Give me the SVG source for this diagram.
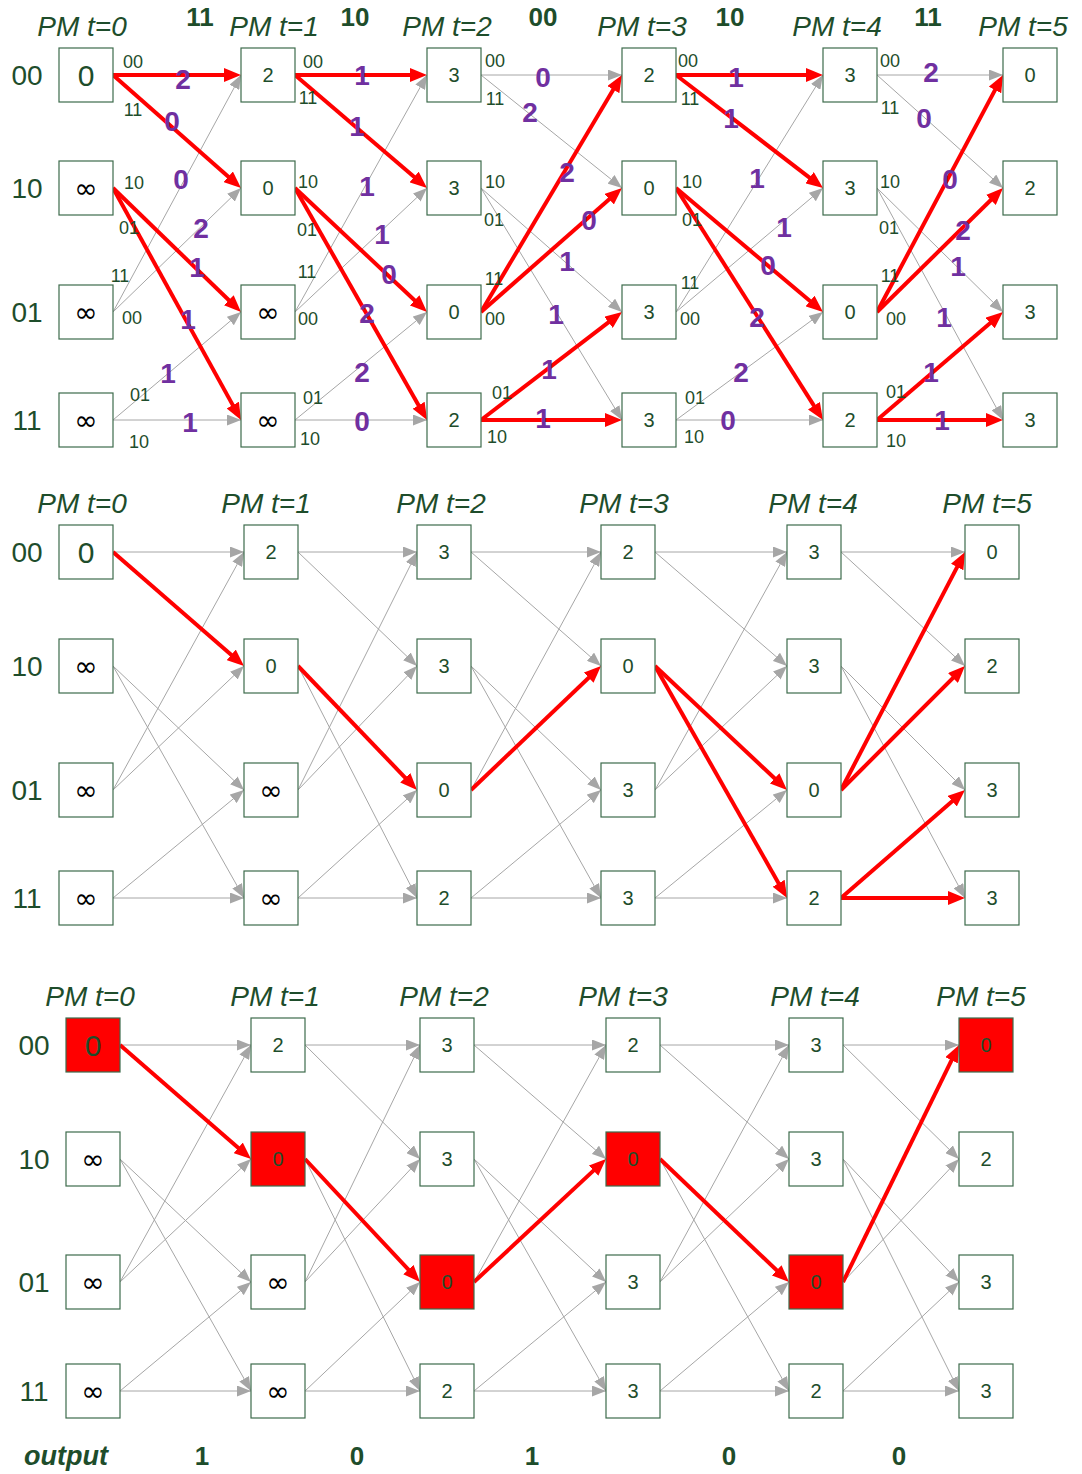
<svg xmlns="http://www.w3.org/2000/svg" width="1082" height="1474" viewBox="0 0 1082 1474">
<style>
.box{fill:#fff;stroke:#3d6b4b;stroke-width:1.2}
.hit{fill:#ff0000;stroke:#3d6b4b;stroke-width:1.2}
.v{font-family:"Liberation Sans",Arial,sans-serif;font-size:20px;fill:#1E4D2B;text-anchor:middle;dominant-baseline:central}
.v0{font-size:30px}
.inf{font-family:"DejaVu Sans",sans-serif;font-size:28px;fill:#000;text-anchor:middle;dominant-baseline:central}
.st{font-family:"Liberation Sans",Arial,sans-serif;font-size:28px;fill:#1E4D2B;text-anchor:middle;dominant-baseline:central}
.pm{font-family:"Liberation Sans",Arial,sans-serif;font-style:italic;font-size:28px;fill:#1E4D2B;text-anchor:middle}
.rx{font-family:"Liberation Sans",Arial,sans-serif;font-weight:bold;font-size:26px;fill:#1E4D2B;text-anchor:middle}
.out{font-style:italic;font-size:27px}
.el{font-family:"Liberation Sans",Arial,sans-serif;font-size:18px;fill:#1E4D2B;text-anchor:middle;dominant-baseline:central}
.bm{font-family:"Liberation Sans",Arial,sans-serif;font-weight:bold;font-size:28px;fill:#7030A0;text-anchor:middle;dominant-baseline:central}
.g{stroke:#A6A6A6;stroke-width:1;marker-end:url(#ag)}
.r{stroke:#FF0000;stroke-width:4;marker-end:url(#ar);stroke-dasharray:95 100}
</style>
<defs>
<marker id="ag" viewBox="0 0 14 11" refX="14" refY="5.5" markerWidth="14" markerHeight="11" markerUnits="userSpaceOnUse" orient="auto"><path d="M0,0 L14,5.5 L0,11 z" fill="#A6A6A6"/></marker>
<marker id="ar" viewBox="0 0 17 14" refX="17" refY="7" markerWidth="17" markerHeight="14" markerUnits="userSpaceOnUse" orient="auto"><path d="M0,0 L17,7 L0,14 z" fill="#FF0000"/></marker>
</defs>
<rect width="1082" height="1474" fill="#fff"/>

<!-- ===== Panel A: full trellis with branch metrics ===== -->
<g id="a-headers">
<text class="pm" x="82" y="36">PM t=0</text>
<text class="pm" x="274" y="36">PM t=1</text>
<text class="pm" x="447" y="36">PM t=2</text>
<text class="pm" x="642" y="36">PM t=3</text>
<text class="pm" x="837" y="36">PM t=4</text>
<text class="pm" x="1023" y="36">PM t=5</text>
<text class="rx" x="200" y="26">11</text>
<text class="rx" x="355" y="26">10</text>
<text class="rx" x="543" y="26">00</text>
<text class="rx" x="730" y="26">10</text>
<text class="rx" x="928" y="26">11</text>
<text class="st" x="27" y="75">00</text>
<text class="st" x="27" y="188">10</text>
<text class="st" x="27" y="312">01</text>
<text class="st" x="27" y="420">11</text>
</g>

<g id="a-connectors">
<!-- stage 0 -->
<line class="g" x1="113" y1="312" x2="241" y2="75"/>
<line class="g" x1="113" y1="312" x2="241" y2="188"/>
<line class="g" x1="113" y1="420" x2="241" y2="312"/>
<line class="g" x1="113" y1="420" x2="241" y2="420"/>
<line class="r" pathLength="100" x1="113" y1="75" x2="241" y2="75"/>
<line class="r" pathLength="100" x1="113" y1="75" x2="241" y2="188"/>
<line class="r" pathLength="100" x1="113" y1="188" x2="241" y2="312"/>
<line class="r" pathLength="100" x1="113" y1="188" x2="241" y2="420"/>
<!-- stage 1 -->
<line class="g" x1="295" y1="312" x2="427" y2="75"/>
<line class="g" x1="295" y1="312" x2="427" y2="188"/>
<line class="g" x1="295" y1="420" x2="427" y2="312"/>
<line class="g" x1="295" y1="420" x2="427" y2="420"/>
<line class="r" pathLength="100" x1="295" y1="75" x2="427" y2="75"/>
<line class="r" pathLength="100" x1="295" y1="75" x2="427" y2="188"/>
<line class="r" pathLength="100" x1="295" y1="188" x2="427" y2="312"/>
<line class="r" pathLength="100" x1="295" y1="188" x2="427" y2="420"/>
<!-- stage 2 -->
<line class="g" x1="481" y1="75" x2="622" y2="75"/>
<line class="g" x1="481" y1="75" x2="622" y2="188"/>
<line class="g" x1="481" y1="188" x2="622" y2="312"/>
<line class="g" x1="481" y1="188" x2="622" y2="420"/>
<line class="r" pathLength="100" x1="481" y1="312" x2="622" y2="75"/>
<line class="r" pathLength="100" x1="481" y1="312" x2="622" y2="188"/>
<line class="r" pathLength="100" x1="481" y1="420" x2="622" y2="312"/>
<line class="r" pathLength="100" x1="481" y1="420" x2="622" y2="420"/>
<!-- stage 3 -->
<line class="g" x1="676" y1="312" x2="823" y2="75"/>
<line class="g" x1="676" y1="312" x2="823" y2="188"/>
<line class="g" x1="676" y1="420" x2="823" y2="312"/>
<line class="g" x1="676" y1="420" x2="823" y2="420"/>
<line class="r" pathLength="100" x1="676" y1="75" x2="823" y2="75"/>
<line class="r" pathLength="100" x1="676" y1="75" x2="823" y2="188"/>
<line class="r" pathLength="100" x1="676" y1="188" x2="823" y2="312"/>
<line class="r" pathLength="100" x1="676" y1="188" x2="823" y2="420"/>
<!-- stage 4 -->
<line class="g" x1="877" y1="75" x2="1003" y2="75"/>
<line class="g" x1="877" y1="75" x2="1003" y2="188"/>
<line class="g" x1="877" y1="188" x2="1003" y2="312"/>
<line class="g" x1="877" y1="188" x2="1003" y2="420"/>
<line class="r" pathLength="100" x1="877" y1="312" x2="1003" y2="75"/>
<line class="r" pathLength="100" x1="877" y1="312" x2="1003" y2="188"/>
<line class="r" pathLength="100" x1="877" y1="420" x2="1003" y2="312"/>
<line class="r" pathLength="100" x1="877" y1="420" x2="1003" y2="420"/>
</g>

<g id="a-edge-outputs">
<text class="el" x="133" y="62">00</text><text class="el" x="133" y="110">11</text>
<text class="el" x="134" y="183">10</text><text class="el" x="129" y="228">01</text>
<text class="el" x="120" y="276">11</text><text class="el" x="132" y="318">00</text>
<text class="el" x="140" y="395">01</text><text class="el" x="139" y="442">10</text>

<text class="el" x="313" y="62">00</text><text class="el" x="308" y="98">11</text>
<text class="el" x="308" y="182">10</text><text class="el" x="307" y="230">01</text>
<text class="el" x="307" y="272">11</text><text class="el" x="308" y="319">00</text>
<text class="el" x="313" y="398">01</text><text class="el" x="310" y="439">10</text>

<text class="el" x="495" y="61">00</text><text class="el" x="495" y="99">11</text>
<text class="el" x="495" y="182">10</text><text class="el" x="494" y="220">01</text>
<text class="el" x="494" y="279">11</text><text class="el" x="495" y="319">00</text>
<text class="el" x="502" y="393">01</text><text class="el" x="497" y="437">10</text>

<text class="el" x="688" y="61">00</text><text class="el" x="690" y="99">11</text>
<text class="el" x="692" y="182">10</text><text class="el" x="692" y="220">01</text>
<text class="el" x="690" y="283">11</text><text class="el" x="690" y="319">00</text>
<text class="el" x="695" y="398">01</text><text class="el" x="694" y="437">10</text>

<text class="el" x="890" y="61">00</text><text class="el" x="890" y="108">11</text>
<text class="el" x="890" y="182">10</text><text class="el" x="889" y="228">01</text>
<text class="el" x="890" y="276">11</text><text class="el" x="896" y="319">00</text>
<text class="el" x="896" y="392">01</text><text class="el" x="896" y="441">10</text>
</g>

<g id="a-branch-metrics">
<text class="bm" x="183" y="79">2</text>
<text class="bm" x="172" y="121">0</text>
<text class="bm" x="181" y="179">0</text>
<text class="bm" x="201" y="228">2</text>
<text class="bm" x="197" y="267">1</text>
<text class="bm" x="188" y="319">1</text>
<text class="bm" x="168" y="373">1</text>
<text class="bm" x="190" y="422">1</text>

<text class="bm" x="362" y="75">1</text>
<text class="bm" x="357" y="126">1</text>
<text class="bm" x="367" y="186">1</text>
<text class="bm" x="382" y="234">1</text>
<text class="bm" x="389" y="274">0</text>
<text class="bm" x="367" y="313">2</text>
<text class="bm" x="362" y="372">2</text>
<text class="bm" x="362" y="421">0</text>

<text class="bm" x="543" y="77">0</text>
<text class="bm" x="530" y="112">2</text>
<text class="bm" x="567" y="172">2</text>
<text class="bm" x="589" y="220">0</text>
<text class="bm" x="567" y="261">1</text>
<text class="bm" x="556" y="314">1</text>
<text class="bm" x="549" y="369">1</text>
<text class="bm" x="543" y="418">1</text>

<text class="bm" x="736" y="77">1</text>
<text class="bm" x="731" y="118">1</text>
<text class="bm" x="757" y="178">1</text>
<text class="bm" x="784" y="227">1</text>
<text class="bm" x="768" y="265">0</text>
<text class="bm" x="757" y="317">2</text>
<text class="bm" x="741" y="372">2</text>
<text class="bm" x="728" y="420">0</text>

<text class="bm" x="931" y="72">2</text>
<text class="bm" x="924" y="118">0</text>
<text class="bm" x="950" y="179">0</text>
<text class="bm" x="963" y="230">2</text>
<text class="bm" x="958" y="266">1</text>
<text class="bm" x="944" y="317">1</text>
<text class="bm" x="931" y="372">1</text>
<text class="bm" x="942" y="420">1</text>
</g>

<g id="a-t0-00"><rect class="box" x="59" y="48" width="54" height="54"/><text class="v v0" x="86" y="75">0</text></g>
<g id="a-t0-10"><rect class="box" x="59" y="161" width="54" height="54"/><text class="inf" x="86" y="188">∞</text></g>
<g id="a-t0-01"><rect class="box" x="59" y="285" width="54" height="54"/><text class="inf" x="86" y="312">∞</text></g>
<g id="a-t0-11"><rect class="box" x="59" y="393" width="54" height="54"/><text class="inf" x="86" y="420">∞</text></g>
<g id="a-t1-00"><rect class="box" x="241" y="48" width="54" height="54"/><text class="v" x="268" y="75">2</text></g>
<g id="a-t1-10"><rect class="box" x="241" y="161" width="54" height="54"/><text class="v" x="268" y="188">0</text></g>
<g id="a-t1-01"><rect class="box" x="241" y="285" width="54" height="54"/><text class="inf" x="268" y="312">∞</text></g>
<g id="a-t1-11"><rect class="box" x="241" y="393" width="54" height="54"/><text class="inf" x="268" y="420">∞</text></g>
<g id="a-t2-00"><rect class="box" x="427" y="48" width="54" height="54"/><text class="v" x="454" y="75">3</text></g>
<g id="a-t2-10"><rect class="box" x="427" y="161" width="54" height="54"/><text class="v" x="454" y="188">3</text></g>
<g id="a-t2-01"><rect class="box" x="427" y="285" width="54" height="54"/><text class="v" x="454" y="312">0</text></g>
<g id="a-t2-11"><rect class="box" x="427" y="393" width="54" height="54"/><text class="v" x="454" y="420">2</text></g>
<g id="a-t3-00"><rect class="box" x="622" y="48" width="54" height="54"/><text class="v" x="649" y="75">2</text></g>
<g id="a-t3-10"><rect class="box" x="622" y="161" width="54" height="54"/><text class="v" x="649" y="188">0</text></g>
<g id="a-t3-01"><rect class="box" x="622" y="285" width="54" height="54"/><text class="v" x="649" y="312">3</text></g>
<g id="a-t3-11"><rect class="box" x="622" y="393" width="54" height="54"/><text class="v" x="649" y="420">3</text></g>
<g id="a-t4-00"><rect class="box" x="823" y="48" width="54" height="54"/><text class="v" x="850" y="75">3</text></g>
<g id="a-t4-10"><rect class="box" x="823" y="161" width="54" height="54"/><text class="v" x="850" y="188">3</text></g>
<g id="a-t4-01"><rect class="box" x="823" y="285" width="54" height="54"/><text class="v" x="850" y="312">0</text></g>
<g id="a-t4-11"><rect class="box" x="823" y="393" width="54" height="54"/><text class="v" x="850" y="420">2</text></g>
<g id="a-t5-00"><rect class="box" x="1003" y="48" width="54" height="54"/><text class="v" x="1030" y="75">0</text></g>
<g id="a-t5-10"><rect class="box" x="1003" y="161" width="54" height="54"/><text class="v" x="1030" y="188">2</text></g>
<g id="a-t5-01"><rect class="box" x="1003" y="285" width="54" height="54"/><text class="v" x="1030" y="312">3</text></g>
<g id="a-t5-11"><rect class="box" x="1003" y="393" width="54" height="54"/><text class="v" x="1030" y="420">3</text></g>

<!-- ===== Panel B: survivor paths ===== -->
<g id="b-headers">
<text class="pm" x="82" y="513">PM t=0</text>
<text class="pm" x="266" y="513">PM t=1</text>
<text class="pm" x="441" y="513">PM t=2</text>
<text class="pm" x="624" y="513">PM t=3</text>
<text class="pm" x="813" y="513">PM t=4</text>
<text class="pm" x="987" y="513">PM t=5</text>
<text class="st" x="27" y="552">00</text>
<text class="st" x="27" y="666">10</text>
<text class="st" x="27" y="790">01</text>
<text class="st" x="27" y="898">11</text>
</g>

<g id="b-connectors">
<line class="g" x1="113" y1="552" x2="244" y2="552"/>
<line class="g" x1="113" y1="666" x2="244" y2="790"/>
<line class="g" x1="113" y1="666" x2="244" y2="898"/>
<line class="g" x1="113" y1="790" x2="244" y2="552"/>
<line class="g" x1="113" y1="790" x2="244" y2="666"/>
<line class="g" x1="113" y1="898" x2="244" y2="790"/>
<line class="g" x1="113" y1="898" x2="244" y2="898"/>

<line class="g" x1="298" y1="552" x2="417" y2="552"/>
<line class="g" x1="298" y1="552" x2="417" y2="666"/>
<line class="g" x1="298" y1="666" x2="417" y2="898"/>
<line class="g" x1="298" y1="790" x2="417" y2="552"/>
<line class="g" x1="298" y1="790" x2="417" y2="666"/>
<line class="g" x1="298" y1="898" x2="417" y2="790"/>
<line class="g" x1="298" y1="898" x2="417" y2="898"/>

<line class="g" x1="471" y1="552" x2="601" y2="552"/>
<line class="g" x1="471" y1="552" x2="601" y2="666"/>
<line class="g" x1="471" y1="666" x2="601" y2="790"/>
<line class="g" x1="471" y1="666" x2="601" y2="898"/>
<line class="g" x1="471" y1="790" x2="601" y2="552"/>
<line class="g" x1="471" y1="898" x2="601" y2="790"/>
<line class="g" x1="471" y1="898" x2="601" y2="898"/>

<line class="g" x1="655" y1="552" x2="787" y2="552"/>
<line class="g" x1="655" y1="552" x2="787" y2="666"/>
<line class="g" x1="655" y1="790" x2="787" y2="552"/>
<line class="g" x1="655" y1="790" x2="787" y2="666"/>
<line class="g" x1="655" y1="898" x2="787" y2="790"/>
<line class="g" x1="655" y1="898" x2="787" y2="898"/>

<line class="g" x1="841" y1="552" x2="965" y2="552"/>
<line class="g" x1="841" y1="552" x2="965" y2="666"/>
<line class="g" x1="841" y1="666" x2="965" y2="790"/>
<line class="g" x1="841" y1="666" x2="965" y2="898"/>

<line class="r" pathLength="100" x1="113" y1="552" x2="244" y2="666"/>
<line class="r" pathLength="100" x1="298" y1="666" x2="417" y2="790"/>
<line class="r" pathLength="100" x1="471" y1="790" x2="601" y2="666"/>
<line class="r" pathLength="100" x1="655" y1="666" x2="787" y2="790"/>
<line class="r" pathLength="100" x1="655" y1="666" x2="787" y2="898"/>
<line class="r" pathLength="100" x1="841" y1="790" x2="965" y2="552"/>
<line class="r" pathLength="100" x1="841" y1="790" x2="965" y2="666"/>
<line class="r" pathLength="100" x1="841" y1="898" x2="965" y2="790"/>
<line class="r" pathLength="100" x1="841" y1="898" x2="965" y2="898"/>
</g>

<g id="b-t0-00"><rect class="box" x="59" y="525" width="54" height="54"/><text class="v v0" x="86" y="552">0</text></g>
<g id="b-t0-10"><rect class="box" x="59" y="639" width="54" height="54"/><text class="inf" x="86" y="666">∞</text></g>
<g id="b-t0-01"><rect class="box" x="59" y="763" width="54" height="54"/><text class="inf" x="86" y="790">∞</text></g>
<g id="b-t0-11"><rect class="box" x="59" y="871" width="54" height="54"/><text class="inf" x="86" y="898">∞</text></g>
<g id="b-t1-00"><rect class="box" x="244" y="525" width="54" height="54"/><text class="v" x="271" y="552">2</text></g>
<g id="b-t1-10"><rect class="box" x="244" y="639" width="54" height="54"/><text class="v" x="271" y="666">0</text></g>
<g id="b-t1-01"><rect class="box" x="244" y="763" width="54" height="54"/><text class="inf" x="271" y="790">∞</text></g>
<g id="b-t1-11"><rect class="box" x="244" y="871" width="54" height="54"/><text class="inf" x="271" y="898">∞</text></g>
<g id="b-t2-00"><rect class="box" x="417" y="525" width="54" height="54"/><text class="v" x="444" y="552">3</text></g>
<g id="b-t2-10"><rect class="box" x="417" y="639" width="54" height="54"/><text class="v" x="444" y="666">3</text></g>
<g id="b-t2-01"><rect class="box" x="417" y="763" width="54" height="54"/><text class="v" x="444" y="790">0</text></g>
<g id="b-t2-11"><rect class="box" x="417" y="871" width="54" height="54"/><text class="v" x="444" y="898">2</text></g>
<g id="b-t3-00"><rect class="box" x="601" y="525" width="54" height="54"/><text class="v" x="628" y="552">2</text></g>
<g id="b-t3-10"><rect class="box" x="601" y="639" width="54" height="54"/><text class="v" x="628" y="666">0</text></g>
<g id="b-t3-01"><rect class="box" x="601" y="763" width="54" height="54"/><text class="v" x="628" y="790">3</text></g>
<g id="b-t3-11"><rect class="box" x="601" y="871" width="54" height="54"/><text class="v" x="628" y="898">3</text></g>
<g id="b-t4-00"><rect class="box" x="787" y="525" width="54" height="54"/><text class="v" x="814" y="552">3</text></g>
<g id="b-t4-10"><rect class="box" x="787" y="639" width="54" height="54"/><text class="v" x="814" y="666">3</text></g>
<g id="b-t4-01"><rect class="box" x="787" y="763" width="54" height="54"/><text class="v" x="814" y="790">0</text></g>
<g id="b-t4-11"><rect class="box" x="787" y="871" width="54" height="54"/><text class="v" x="814" y="898">2</text></g>
<g id="b-t5-00"><rect class="box" x="965" y="525" width="54" height="54"/><text class="v" x="992" y="552">0</text></g>
<g id="b-t5-10"><rect class="box" x="965" y="639" width="54" height="54"/><text class="v" x="992" y="666">2</text></g>
<g id="b-t5-01"><rect class="box" x="965" y="763" width="54" height="54"/><text class="v" x="992" y="790">3</text></g>
<g id="b-t5-11"><rect class="box" x="965" y="871" width="54" height="54"/><text class="v" x="992" y="898">3</text></g>

<!-- ===== Panel C: traceback and decoded output ===== -->
<g id="c-headers">
<text class="pm" x="90" y="1006">PM t=0</text>
<text class="pm" x="275" y="1006">PM t=1</text>
<text class="pm" x="444" y="1006">PM t=2</text>
<text class="pm" x="623" y="1006">PM t=3</text>
<text class="pm" x="815" y="1006">PM t=4</text>
<text class="pm" x="981" y="1006">PM t=5</text>
<text class="st" x="34" y="1045">00</text>
<text class="st" x="34" y="1159">10</text>
<text class="st" x="34" y="1282">01</text>
<text class="st" x="34" y="1391">11</text>
</g>

<g id="c-connectors">
<line class="g" x1="120" y1="1045" x2="251" y2="1045"/>
<line class="g" x1="120" y1="1159" x2="251" y2="1282"/>
<line class="g" x1="120" y1="1159" x2="251" y2="1391"/>
<line class="g" x1="120" y1="1282" x2="251" y2="1045"/>
<line class="g" x1="120" y1="1282" x2="251" y2="1159"/>
<line class="g" x1="120" y1="1391" x2="251" y2="1282"/>
<line class="g" x1="120" y1="1391" x2="251" y2="1391"/>

<line class="g" x1="305" y1="1045" x2="420" y2="1045"/>
<line class="g" x1="305" y1="1045" x2="420" y2="1159"/>
<line class="g" x1="305" y1="1159" x2="420" y2="1391"/>
<line class="g" x1="305" y1="1282" x2="420" y2="1045"/>
<line class="g" x1="305" y1="1282" x2="420" y2="1159"/>
<line class="g" x1="305" y1="1391" x2="420" y2="1282"/>
<line class="g" x1="305" y1="1391" x2="420" y2="1391"/>

<line class="g" x1="474" y1="1045" x2="606" y2="1045"/>
<line class="g" x1="474" y1="1045" x2="606" y2="1159"/>
<line class="g" x1="474" y1="1159" x2="606" y2="1282"/>
<line class="g" x1="474" y1="1159" x2="606" y2="1391"/>
<line class="g" x1="474" y1="1282" x2="606" y2="1045"/>
<line class="g" x1="474" y1="1391" x2="606" y2="1282"/>
<line class="g" x1="474" y1="1391" x2="606" y2="1391"/>

<line class="g" x1="660" y1="1045" x2="789" y2="1045"/>
<line class="g" x1="660" y1="1045" x2="789" y2="1159"/>
<line class="g" x1="660" y1="1159" x2="789" y2="1391"/>
<line class="g" x1="660" y1="1282" x2="789" y2="1045"/>
<line class="g" x1="660" y1="1282" x2="789" y2="1159"/>
<line class="g" x1="660" y1="1391" x2="789" y2="1282"/>
<line class="g" x1="660" y1="1391" x2="789" y2="1391"/>

<line class="g" x1="843" y1="1045" x2="959" y2="1045"/>
<line class="g" x1="843" y1="1045" x2="959" y2="1159"/>
<line class="g" x1="843" y1="1159" x2="959" y2="1282"/>
<line class="g" x1="843" y1="1159" x2="959" y2="1391"/>
<line class="g" x1="843" y1="1282" x2="959" y2="1159"/>
<line class="g" x1="843" y1="1391" x2="959" y2="1282"/>
<line class="g" x1="843" y1="1391" x2="959" y2="1391"/>

<line class="r" pathLength="100" x1="120" y1="1045" x2="251" y2="1159"/>
<line class="r" pathLength="100" x1="305" y1="1159" x2="420" y2="1282"/>
<line class="r" pathLength="100" x1="474" y1="1282" x2="606" y2="1159"/>
<line class="r" pathLength="100" x1="660" y1="1159" x2="789" y2="1282"/>
<line class="r" pathLength="100" x1="843" y1="1282" x2="959" y2="1045"/>
</g>

<g id="c-t0-00"><rect class="hit" x="66" y="1018" width="54" height="54"/><text class="v v0" x="93" y="1045">0</text></g>
<g id="c-t0-10"><rect class="box" x="66" y="1132" width="54" height="54"/><text class="inf" x="93" y="1159">∞</text></g>
<g id="c-t0-01"><rect class="box" x="66" y="1255" width="54" height="54"/><text class="inf" x="93" y="1282">∞</text></g>
<g id="c-t0-11"><rect class="box" x="66" y="1364" width="54" height="54"/><text class="inf" x="93" y="1391">∞</text></g>
<g id="c-t1-00"><rect class="box" x="251" y="1018" width="54" height="54"/><text class="v" x="278" y="1045">2</text></g>
<g id="c-t1-10"><rect class="hit" x="251" y="1132" width="54" height="54"/><text class="v" x="278" y="1159">0</text></g>
<g id="c-t1-01"><rect class="box" x="251" y="1255" width="54" height="54"/><text class="inf" x="278" y="1282">∞</text></g>
<g id="c-t1-11"><rect class="box" x="251" y="1364" width="54" height="54"/><text class="inf" x="278" y="1391">∞</text></g>
<g id="c-t2-00"><rect class="box" x="420" y="1018" width="54" height="54"/><text class="v" x="447" y="1045">3</text></g>
<g id="c-t2-10"><rect class="box" x="420" y="1132" width="54" height="54"/><text class="v" x="447" y="1159">3</text></g>
<g id="c-t2-01"><rect class="hit" x="420" y="1255" width="54" height="54"/><text class="v" x="447" y="1282">0</text></g>
<g id="c-t2-11"><rect class="box" x="420" y="1364" width="54" height="54"/><text class="v" x="447" y="1391">2</text></g>
<g id="c-t3-00"><rect class="box" x="606" y="1018" width="54" height="54"/><text class="v" x="633" y="1045">2</text></g>
<g id="c-t3-10"><rect class="hit" x="606" y="1132" width="54" height="54"/><text class="v" x="633" y="1159">0</text></g>
<g id="c-t3-01"><rect class="box" x="606" y="1255" width="54" height="54"/><text class="v" x="633" y="1282">3</text></g>
<g id="c-t3-11"><rect class="box" x="606" y="1364" width="54" height="54"/><text class="v" x="633" y="1391">3</text></g>
<g id="c-t4-00"><rect class="box" x="789" y="1018" width="54" height="54"/><text class="v" x="816" y="1045">3</text></g>
<g id="c-t4-10"><rect class="box" x="789" y="1132" width="54" height="54"/><text class="v" x="816" y="1159">3</text></g>
<g id="c-t4-01"><rect class="hit" x="789" y="1255" width="54" height="54"/><text class="v" x="816" y="1282">0</text></g>
<g id="c-t4-11"><rect class="box" x="789" y="1364" width="54" height="54"/><text class="v" x="816" y="1391">2</text></g>
<g id="c-t5-00"><rect class="hit" x="959" y="1018" width="54" height="54"/><text class="v" x="986" y="1045">0</text></g>
<g id="c-t5-10"><rect class="box" x="959" y="1132" width="54" height="54"/><text class="v" x="986" y="1159">2</text></g>
<g id="c-t5-01"><rect class="box" x="959" y="1255" width="54" height="54"/><text class="v" x="986" y="1282">3</text></g>
<g id="c-t5-11"><rect class="box" x="959" y="1364" width="54" height="54"/><text class="v" x="986" y="1391">3</text></g>

<g id="c-output">
<text class="rx out" x="66" y="1465">output</text>
<text class="rx" x="202" y="1465">1</text>
<text class="rx" x="357" y="1465">0</text>
<text class="rx" x="532" y="1465">1</text>
<text class="rx" x="729" y="1465">0</text>
<text class="rx" x="899" y="1465">0</text>
</g>
</svg>
